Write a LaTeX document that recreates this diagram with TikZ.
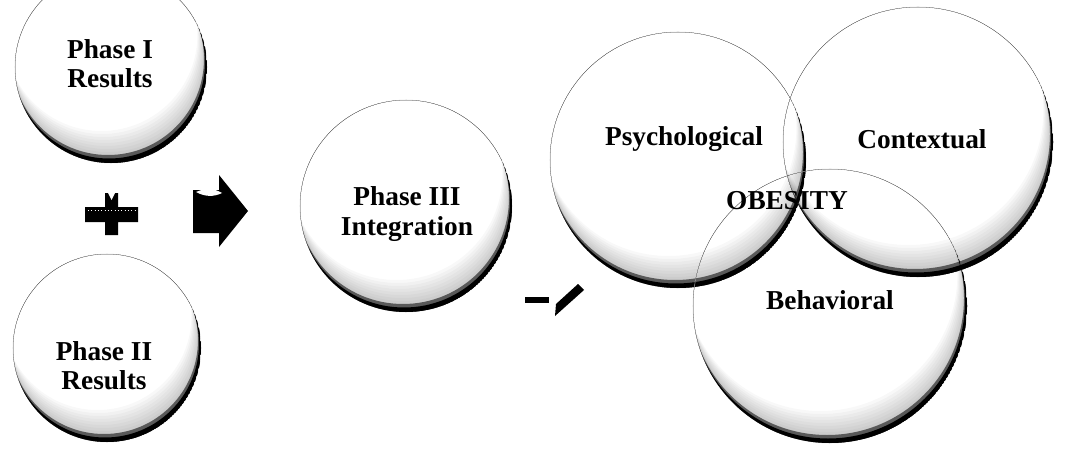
\documentclass[tikz,border=0pt]{standalone}
\usepackage{fontspec}
\setmainfont{Liberation Serif}
\begin{document}
\begin{tikzpicture}[x=0.75pt,y=-0.75pt,
  orb/.style={circle, inner sep=0pt, outer sep=0pt, draw=black!18, line width=0.4pt},
  lbl/.style={font=\bfseries\fontsize{20.5}{21.5}\selectfont, align=center, inner sep=0pt},
  glyph/.style={fill=black}]
\useasboundingbox (0,0) rectangle (1067,453);

% a bevelled sphere: faint outline, grey inner shading and a dark lower rim
\newcommand\bevelorb[4]{%
  \node[orb, minimum size={2*#4*0.75pt}] (#1) at (#2,#3) {};
  \begin{scope}
    \clip (#1.center) circle[radius={#4*0.75pt}];
    \foreach \s in {32,29,...,8}{
      \fill[black, opacity=0.028, even odd rule]
        (#1.center) circle[radius={#4*0.75pt}]
        ([shift={(-0.3*\s,-\s)}]#1.center) circle[radius={#4*0.75pt}];
    }
    \fill[black, opacity=0.55, even odd rule]
      (#1.center) circle[radius={#4*0.75pt}]
      ([shift={(-3,-8)}]#1.center) circle[radius={#4*0.75pt}];
    \fill[black, even odd rule]
      (#1.center) circle[radius={#4*0.75pt}]
      ([shift={(-2,-4.5)}]#1.center) circle[radius={#4*0.75pt}];
  \end{scope}}

% input phases and integration
\bevelorb{p1}{111}{67}{96}
\bevelorb{p2}{107}{348}{94}
\bevelorb{p3}{406}{206}{106}

% overlapping domains
\bevelorb{psy}{678}{160}{128}
\bevelorb{beh}{830}{306}{137}
\bevelorb{con}{918}{142}{135}

% plus sign
\fill[glyph] (85,207) -- (105,207) -- (105,193) -- (118,193) -- (118,207)
  -- (138,207) -- (138,222) -- (118,222) -- (118,235) -- (105,235)
  -- (105,222) -- (85,222) -- cycle;
\fill[white] (108,193) -- (111.5,200) -- (115,193) -- cycle;
\draw[white, line width=0.5pt, dotted] (88,210) -- (135,210);

% block arrow
\fill[glyph] (193,190) -- (219,190) -- (219,175) -- (248,211) -- (219,247)
  -- (219,233) -- (193,233) -- cycle;
\fill[white] (196,192) .. controls (205,188) and (214,188) .. (222,193)
  .. controls (214,197) and (205,197) .. (196,192) -- cycle;

% minus and slash
\fill[glyph] (525,297) rectangle (549,303);
\fill[glyph] (555,316) -- (556,304) -- (578,284) -- (584,290) -- cycle;

% labels
\node[lbl] (p1t) at (110,64) {Phase I\\Results};
\node[lbl] (p2t) at (104,366) {Phase II\\Results};
\node[lbl, font=\bfseries\fontsize{20.5}{23}\selectfont] (p3t) at (407,214) {Phase III\\Integration};
\node[lbl] (psyt) at (684,139) {Psychological};
\node[lbl] (cont) at (922,139) {Contextual};
\node[lbl] (obet) at (787,201) {OBESITY};
\node[lbl] (beht) at (830,300) {Behavioral};
\end{tikzpicture}
\end{document}
